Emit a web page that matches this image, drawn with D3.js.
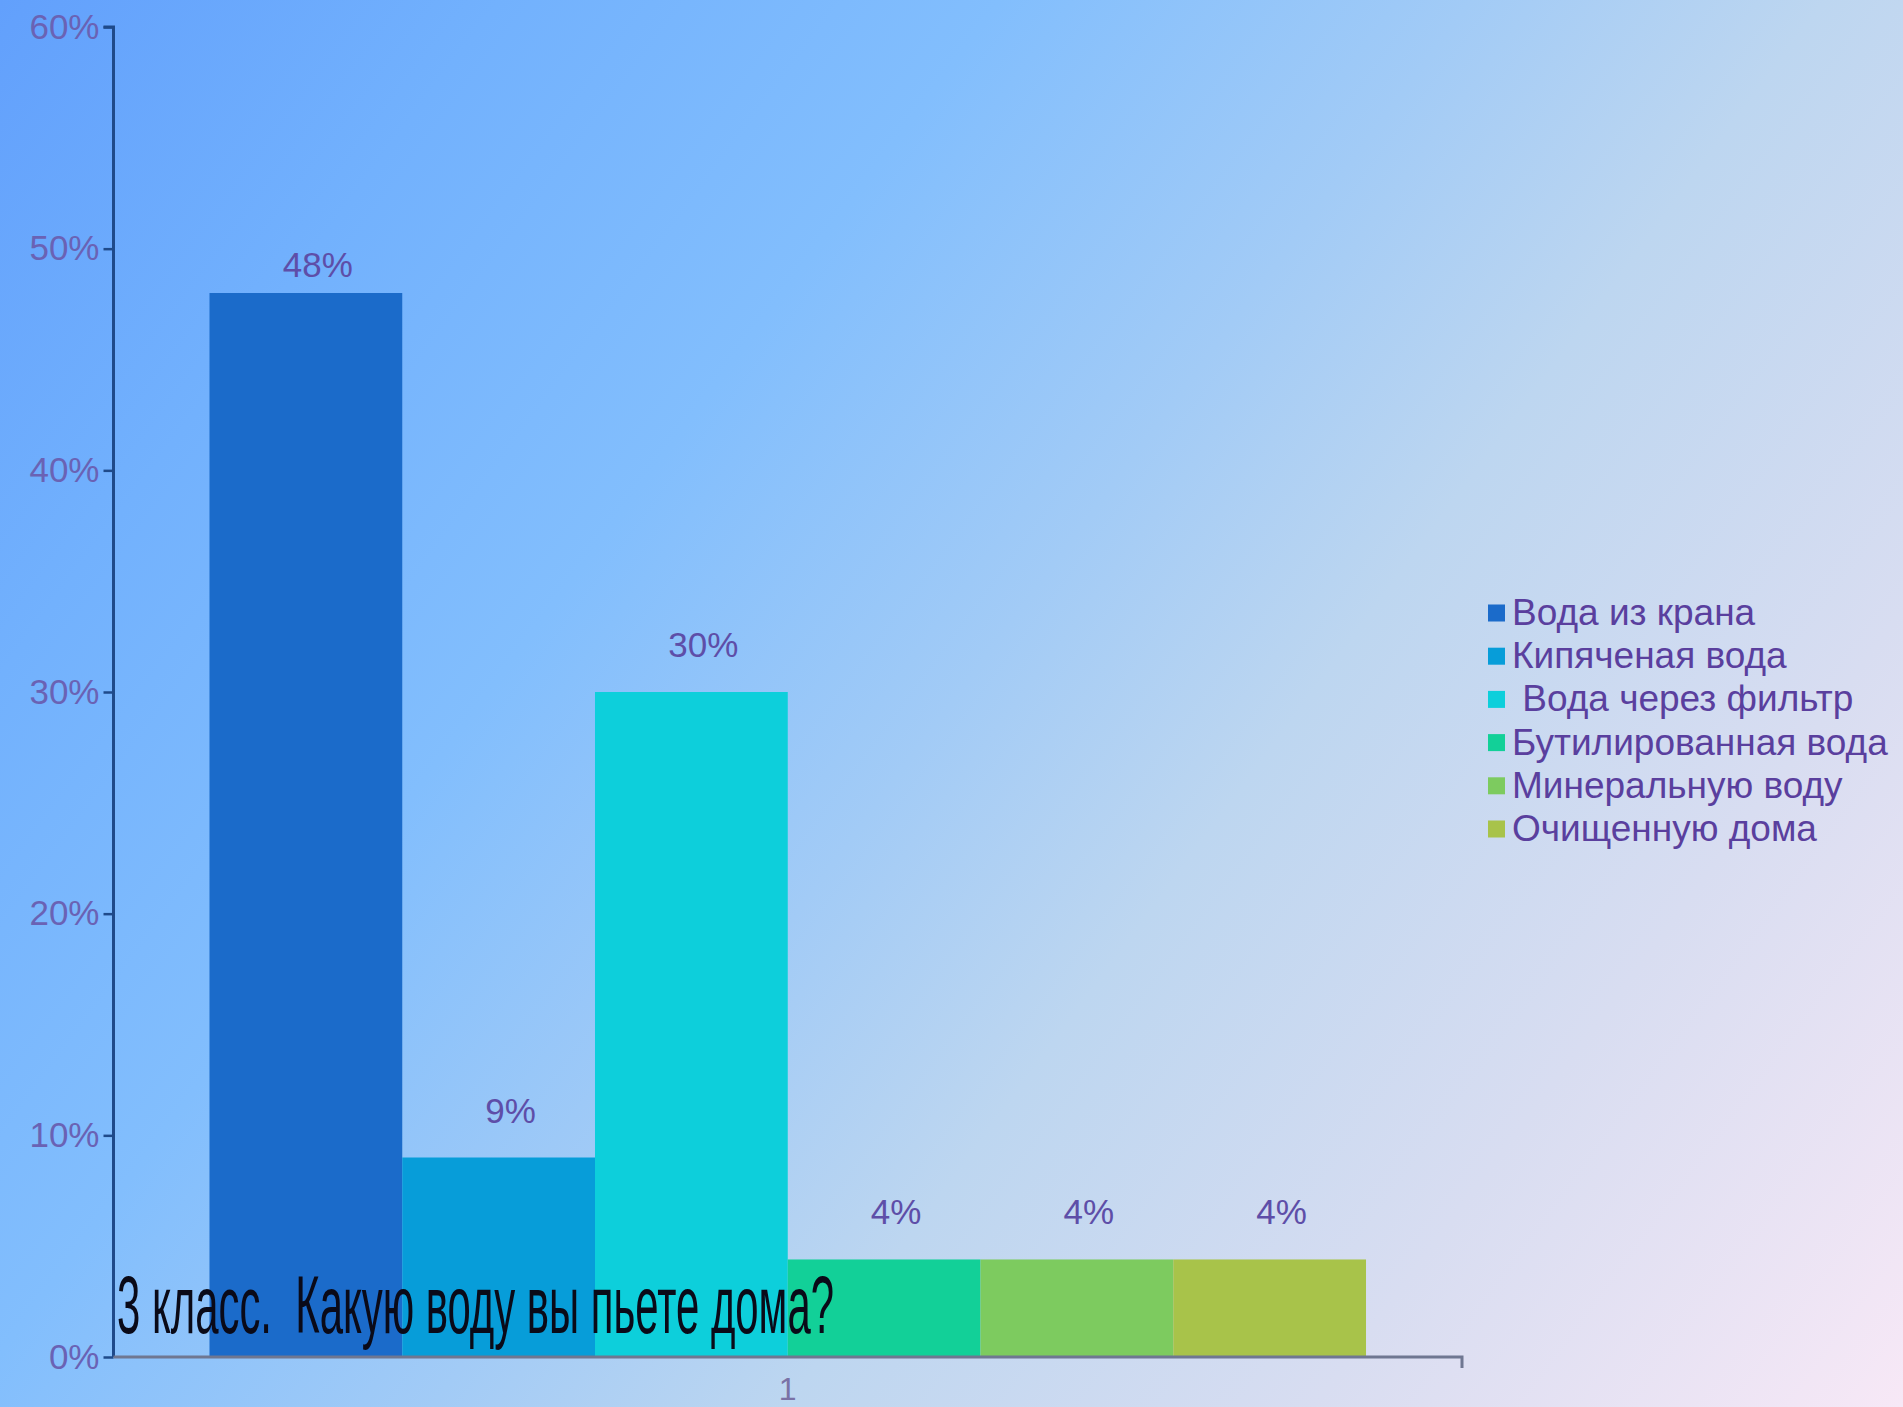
<!DOCTYPE html>
<html>
<head>
<meta charset="utf-8">
<script src="https://cdn.jsdelivr.net/npm/d3@7"></script>
<style>
  html, body { margin: 0; padding: 0; overflow: hidden; }
  svg { display: block; }
</style>
</head>
<body>
<svg id="chart" width="1903" height="1407"></svg>
<script>
// --- data
const categories = ["1"];
const seriesNames = [
  "Вода из крана",
  "Кипяченая вода",
  " Вода через фильтр",
  "Бутилированная вода",
  "Минеральную воду",
  "Очищенную дома"
];
const seriesValues = [0.48, 0.09, 0.30, 0.044, 0.044, 0.044];
const seriesColors = ["#1b6bca", "#079dd9", "#0dcfdb", "#12d098", "#7dcb5f", "#a8c34a"];
const yTicks = [0, 0.1, 0.2, 0.3, 0.4, 0.5, 0.6];
const titleText = "3 класс.  Какую воду вы пьете дома?";

const W = 1903, H = 1407;
const svg = d3.select("#chart");

// background gradient
const defs = svg.append("defs");
const grad = defs.append("linearGradient")
  .attr("id", "bg")
  .attr("gradientUnits", "userSpaceOnUse")
  .attr("x1", 0).attr("y1", 0).attr("x2", W).attr("y2", H);
[
  [0, "#62a0fc"], [0.17, "#72b1fd"], [0.34, "#82befd"],
  [0.5, "#a2cbf6"], [0.62, "#bdd6f0"], [0.8, "#d8ddf1"], [1, "#f7e8f6"]
].forEach(([o, c]) => grad.append("stop").attr("offset", o).attr("stop-color", c));
svg.append("rect").attr("width", W).attr("height", H).attr("fill", "url(#bg)");

// --- scales
const plot = { left: 113.5, right: 1462, top: 27, bottom: 1357 };

const y = d3.scaleLinear().domain([0, 0.6]).range([plot.bottom, plot.top]);
const x0 = d3.scaleBand()
  .domain(categories)
  .range([plot.left, plot.right])
  .paddingInner(0)
  .paddingOuter(0.083);
const x1 = d3.scaleBand()
  .domain(seriesNames)
  .range([0, x0.bandwidth()])
  .padding(0);

const labelColor = "#5e4ea8";
const font = "'Liberation Sans', Arial, sans-serif";

// --- bars
const gBars = svg.append("g").attr("transform", `translate(${x0(categories[0])},0)`);
gBars.selectAll("rect")
  .data(seriesNames)
  .join("rect")
  .attr("x", (d) => x1(d))
  .attr("width", x1.bandwidth())
  .attr("y", (d, i) => y(seriesValues[i]))
  .attr("height", (d, i) => y(0) - y(seriesValues[i]))
  .attr("fill", (d, i) => seriesColors[i]);

// data labels
const fmt = d3.format(".0%");
gBars.selectAll("text")
  .data(seriesNames)
  .join("text")
  .attr("x", (d) => x1(d) + x1.bandwidth() / 2 + 12)
  .attr("y", (d, i) => Math.max(y(seriesValues[i]) - 35, y(0.5) + 28))
  .attr("text-anchor", "middle")
  .style("font-family", font)
  .style("font-size", "35px")
  .style("fill", labelColor)
  .text((d, i) => fmt(seriesValues[i]));

// --- y axis
const yAxis = d3.axisLeft(y)
  .tickValues(yTicks)
  .tickFormat(d3.format(".0%"))
  .tickSize(10)
  .tickPadding(4);
const gy = svg.append("g").attr("transform", `translate(${plot.left},0)`).call(yAxis);
gy.select(".domain").attr("stroke", "#1f4a8a").attr("stroke-width", 3)
  .attr("d", `M-10,${plot.top}H0V${plot.bottom}`);
gy.selectAll(".tick line").attr("stroke", "#1f4a8a").attr("stroke-width", 2.5);
gy.selectAll(".tick text")
  .style("font-family", font)
  .style("font-size", "35px")
  .style("fill", "#6a62b4");

// --- x axis
const xAxis = d3.axisBottom(x0).tickSize(0).tickPadding(20);
const gx = svg.append("g").attr("transform", `translate(0,${plot.bottom})`).call(xAxis);
gx.select(".domain").attr("stroke", "#6f7791").attr("stroke-width", 3)
  .attr("d", `M${plot.left},0H${plot.right}V11`);
gx.selectAll(".tick text")
  .style("font-family", font)
  .style("font-size", "32px")
  .style("fill", "#7a72a6");

// --- legend
const legend = svg.append("g").attr("transform", "translate(1488,613)");
const items = legend.selectAll("g")
  .data(seriesNames)
  .join("g")
  .attr("transform", (d, i) => `translate(0,${i * 43.2})`);
items.append("rect")
  .attr("x", 0).attr("y", -8.5)
  .attr("width", 17).attr("height", 17)
  .attr("fill", (d, i) => seriesColors[i]);
items.append("text")
  .attr("x", 24).attr("y", 12)
  .style("font-family", font)
  .style("font-size", "37px")
  .style("white-space", "pre")
  .style("fill", "#5a3f9e")
  .text((d) => d);

// --- title (condensed, sits over the bars)
svg.append("text")
  .attr("x", 117)
  .attr("y", 1333)
  .attr("textLength", 717)
  .attr("lengthAdjust", "spacingAndGlyphs")
  .style("white-space", "pre")
  .style("font-family", "'Liberation Sans Narrow', 'Liberation Sans', Arial, sans-serif")
  .style("font-size", "82px")
  .style("fill", "#0a0a18")
  .text(titleText);
</script>
</body>
</html>
